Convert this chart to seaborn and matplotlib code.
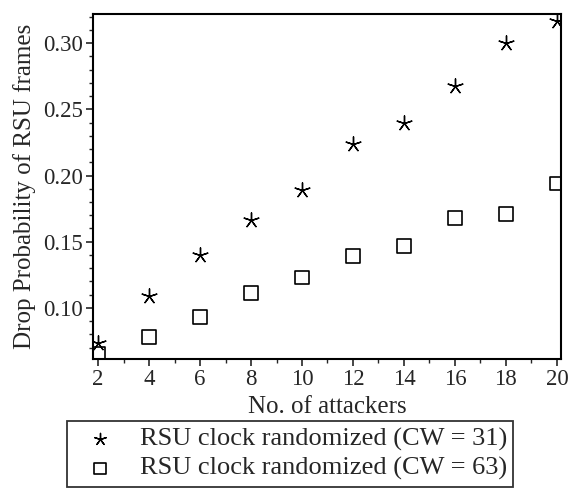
import matplotlib
matplotlib.use("Agg")
import pandas as pd
import seaborn as sns
import matplotlib.pyplot as plt
from matplotlib.ticker import MultipleLocator

# data
attackers = [2, 4, 6, 8, 10, 12, 14, 16, 18, 20]
drop_cw31 = [0.0735, 0.109, 0.140, 0.1665, 0.189, 0.2235, 0.240, 0.2675, 0.300, 0.317]
drop_cw63 = [0.065, 0.078, 0.093, 0.111, 0.123, 0.139, 0.147, 0.168, 0.171, 0.194]
labels = ["RSU clock randomized (CW = 31)", "RSU clock randomized (CW = 63)"]

df = pd.DataFrame({"attackers": attackers, "cw31": drop_cw31, "cw63": drop_cw63})

sns.set_style("ticks")
plt.rcParams["font.family"] = ["Liberation Serif", "DejaVu Serif"]

fig = plt.figure(figsize=(5.69, 4.88), dpi=100)
ax = fig.add_axes([0.1634, 0.2643, 0.8225, 0.707])

sns.scatterplot(data=df, x="attackers", y="cw31", marker=(5, 2, 0), s=120,
                color="black", linewidth=1.0, label=labels[0], ax=ax)
sns.scatterplot(data=df, x="attackers", y="cw63", marker="s", s=100,
                facecolors="none", edgecolor="black", linewidth=1.2,
                label=labels[1], ax=ax)

ax.set_xlim(1.8, 20.16)
ax.set_ylim(0.0614, 0.322)
ax.set_xticks(range(2, 21, 2))
ax.xaxis.set_minor_locator(MultipleLocator(1))
ax.set_yticks([0.10, 0.15, 0.20, 0.25, 0.30])
ax.set_yticklabels(["0.10", "0.15", "0.20", "0.25", "0.30"])
ax.yaxis.set_minor_locator(MultipleLocator(0.01))
ax.tick_params(which="major", length=5, width=1.2, labelsize=16.5, pad=2.5, direction="out")
ax.tick_params(which="minor", length=3, width=1.0, direction="out")
for s in ax.spines.values():
    s.set_linewidth(1.5)
    s.set_color("black")

ax.set_xlabel("No. of attackers", fontsize=18, labelpad=4)
ax.set_ylabel("Drop Probability of RSU frames", fontsize=18, labelpad=5)

ax.legend_.remove()
h, l = ax.get_legend_handles_labels()
leg = fig.legend(h, l, loc="lower left", bbox_to_anchor=(0.1178, 0.002, 0.784, 0.131),
                 mode="expand", fontsize=19, frameon=True, fancybox=False,
                 borderpad=0.25, handletextpad=0.5, labelspacing=0.2,
                 markerscale=0.8, borderaxespad=0)
leg.get_frame().set_edgecolor("black")
leg.get_frame().set_linewidth(1.3)

fig.savefig("out.png", dpi=100)
